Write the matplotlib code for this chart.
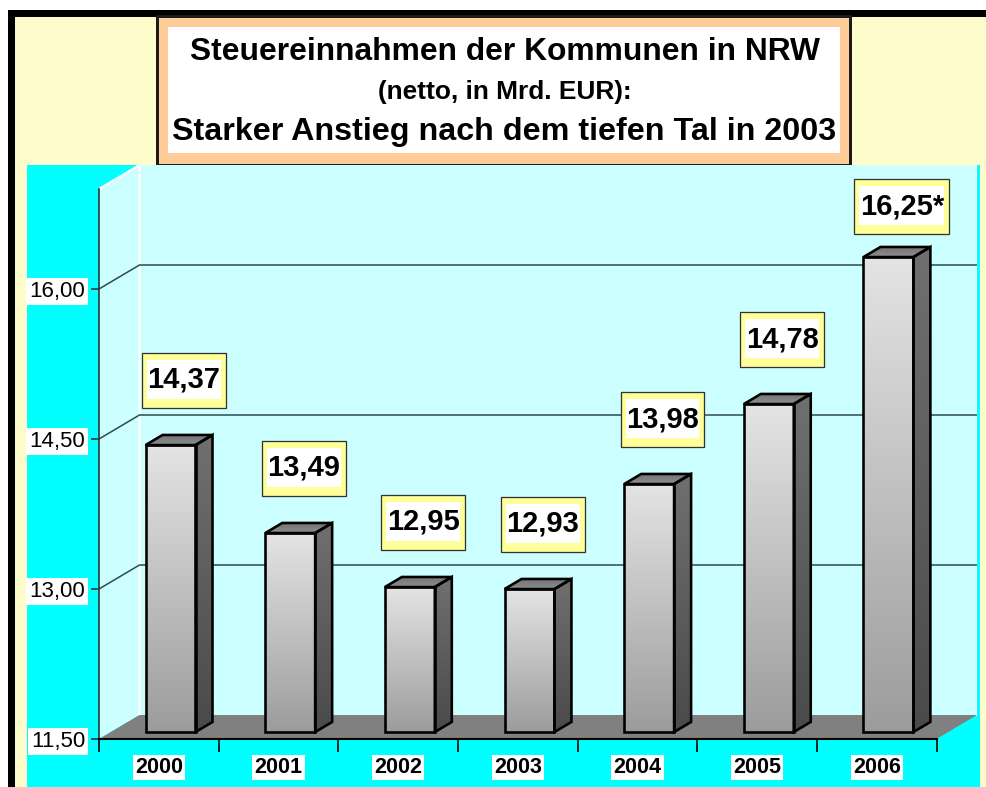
import numpy as np
import matplotlib
matplotlib.use("Agg")
import matplotlib.pyplot as plt
from matplotlib.patches import Rectangle, Polygon
from matplotlib.colors import LinearSegmentedColormap
from matplotlib.transforms import ScaledTranslation

# ---------------- data ----------------
years = ["2000", "2001", "2002", "2003", "2004", "2005", "2006"]
values = [14.37, 13.49, 12.95, 12.93, 13.98, 14.78, 16.25]
notes = ["", "", "", "", "", "", "*"]
yticks = [11.5, 13.0, 14.5, 16.0]
title_lines = ["Steuereinnahmen der Kommunen in NRW",
               "(netto, in Mrd. EUR):",
               "Starker Anstieg nach dem tiefen Tal in 2003"]

plt.rcParams["font.family"] = ["Liberation Sans", "DejaVu Sans"]

W, H, DPI = 986, 787, 100
PT = 72.0 / DPI  # points per pixel
fig = plt.figure(figsize=(W / DPI, H / DPI), dpi=DPI)
fig.patch.set_facecolor("white")

# ---------------- background / frame ----------------
bg = fig.add_axes([0, 0, 1, 1])
bg.set_xlim(0, W)
bg.set_ylim(H, 0)
bg.axis("off")
bg.add_patch(Rectangle((10.5, 12.5), 1100, 900, fc="#FFFCCC", ec="black", lw=7 * PT))
bg.add_patch(Rectangle((27, 165), 953, 622, fc="#00FFFF", ec="none"))
bg.add_patch(Rectangle((157, 16), 693, 149, fc="#FFCC99", ec="#1a1a1a", lw=3 * PT))
bg.add_patch(Rectangle((168, 27), 672, 126, fc="white", ec="none"))
bg.text(505, 60, title_lines[0], ha="center", va="baseline", fontsize=22.9, fontweight="bold")
bg.text(505, 99, title_lines[1], ha="center", va="baseline", fontsize=18.9, fontweight="bold")
bg.text(504, 140, title_lines[2], ha="center", va="baseline", fontsize=23.2, fontweight="bold")

# ---------------- chart axes (front plane) ----------------
ax = fig.add_axes([99 / W, 1 - 739 / H, (977 - 99) / W, (739 - 165) / H])
ax.set_facecolor("#00FFFF")
n = len(values)
YMIN, YMAX = yticks[0], 17.0
DX = 40.5 / 119.7      # depth offset in category units
DY = 0.24              # depth offset in value units
LC = "#CCFFFF"

# walls
ax.add_patch(Polygon([(DX, YMIN + DY), (n + DX, YMIN + DY), (n + DX, YMAX + DY), (DX, YMAX + DY)],
                     closed=True, fc=LC, ec="none", zorder=1))
ax.add_patch(Polygon([(0, YMIN), (DX, YMIN + DY), (DX, YMAX + DY), (0, YMAX)],
                     closed=True, fc=LC, ec="none", zorder=1))
ax.plot([0, DX, DX], [YMAX, YMAX + DY, YMIN + DY], color="white", lw=1.6, zorder=2)
ax.plot([n + DX, n + DX], [YMIN + DY, YMAX + DY], color="white", lw=1.6, zorder=2)
for v in yticks[1:]:
    ax.plot([0, DX, n + DX], [v, v + DY, v + DY], color="#2F4A4A", lw=1.1, zorder=2)
# floor
ax.add_patch(Polygon([(0, YMIN), (n, YMIN), (n + DX, YMIN + DY), (DX, YMIN + DY)],
                     closed=True, fc="#808080", ec="none", zorder=3))

# bars
front_cm = LinearSegmentedColormap.from_list("front", ["#9C9C9C", "#E4E4E4"])
side_cm = LinearSegmentedColormap.from_list("side", ["#4A4A4A", "#707070"])
top_cm = LinearSegmentedColormap.from_list("top", ["#909090", "#707070"])
grad = np.linspace(0, 1, 256).reshape(-1, 1)
bw = 0.417
f0, f1 = 0.29, 0.71
ddx, ddy = (f1 - f0) * DX, (f1 - f0) * DY
olw = 2.6 * PT
for i, v in enumerate(values):
    x0 = i + 0.5 - bw / 2 + f0 * DX
    x1 = x0 + bw
    yb = YMIN + f0 * DY
    yt = v + f0 * DY
    z = 5
    ax.imshow(grad, extent=[x0, x1, yb, yt], origin="lower", cmap=front_cm,
              aspect="auto", zorder=z, interpolation="bilinear")
    ax.add_patch(Rectangle((x0, yb), bw, yt - yb, fc="none", ec="black", lw=olw, zorder=z + 1))
    side = Polygon([(x1, yb), (x1 + ddx, yb + ddy), (x1 + ddx, yt + ddy), (x1, yt)],
                   closed=True, fc="none", ec="black", lw=olw, zorder=z + 1)
    im = ax.imshow(grad, extent=[x1, x1 + ddx, yb, yt + ddy], origin="lower", cmap=side_cm,
                   aspect="auto", zorder=z, interpolation="bilinear")
    ax.add_patch(side)
    im.set_clip_path(side)
    top = Polygon([(x0, yt), (x1, yt), (x1 + ddx, yt + ddy), (x0 + ddx, yt + ddy)],
                  closed=True, fc="none", ec="black", lw=olw, zorder=z + 1)
    im2 = ax.imshow(grad, extent=[x0, x1 + ddx, yt, yt + ddy], origin="lower", cmap=top_cm,
                    aspect="auto", zorder=z, interpolation="bilinear")
    ax.add_patch(top)
    im2.set_clip_path(top)

ax.set_xlim(0, n + DX)
ax.set_ylim(YMIN, YMAX + DY)

# spines and ticks
for s in ["top", "right"]:
    ax.spines[s].set_visible(False)
ax.spines["left"].set_bounds(YMIN, YMAX)
ax.spines["left"].set_color("#333333")
ax.spines["left"].set_linewidth(1.2)
ax.spines["bottom"].set_bounds(0, n)
ax.spines["bottom"].set_color("black")
ax.spines["bottom"].set_linewidth(1.5)
ax.spines["left"].set_zorder(4)
ax.spines["bottom"].set_zorder(4)

ax.set_yticks(yticks)
ax.set_yticklabels([f"{v:.2f}".replace(".", ",") for v in yticks])
ax.tick_params(axis="y", direction="out", length=6, width=1.2, color="#333333",
               pad=4, labelsize=16)
for lbl in ax.get_yticklabels():
    lbl.set_bbox(dict(boxstyle="square,pad=0.15", fc="white", ec="none"))

ax.set_xticks(range(n + 1))
ax.set_xticklabels([])
ax.set_xticks([i + 0.5 for i in range(n)], minor=True)
ax.set_xticklabels(years, minor=True)
ax.tick_params(axis="x", which="major", direction="out", length=9, width=1.2, color="black")
ax.tick_params(axis="x", which="minor", length=0, pad=13, labelsize=15.5)
for lbl in ax.get_xticklabels(minor=True):
    lbl.set_fontweight("bold")
    lbl.set_bbox(dict(boxstyle="square,pad=0.1", fc="white", ec="none"))

# value labels
renderer = fig.canvas.get_renderer()
for i, v in enumerate(values):
    s = f"{v:.2f}".replace(".", ",") + notes[i]
    lx = i + 0.5 + 0.21
    ly = min(v + 0.72, 16.83)
    t = ax.text(lx, ly, s, ha="center", va="center", fontsize=21, fontweight="bold",
                color="black", zorder=12)
    tw = t.get_window_extent(renderer).width / DPI
    trans = fig.dpi_scale_trans + ScaledTranslation(lx, ly, ax.transData)
    bw_in = tw + 0.11
    bh_in = 0.55
    ax.add_patch(Rectangle((-bw_in / 2, -bh_in / 2), bw_in, bh_in, transform=trans,
                           fc="#FFFF99", ec="#333333", lw=1.3 * PT, zorder=10, clip_on=False))
    ax.add_patch(Rectangle((-bw_in / 2 + 0.05, -bh_in / 2 + 0.085), bw_in - 0.10, bh_in - 0.16,
                           transform=trans, fc="white", ec="none", zorder=11, clip_on=False))

fig.savefig("out.png", dpi=DPI, facecolor=fig.get_facecolor())
